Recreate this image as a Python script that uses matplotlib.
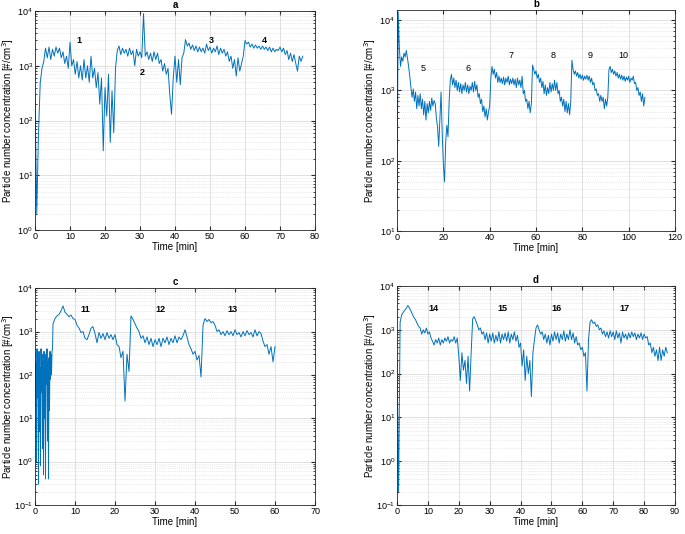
import numpy as np
import matplotlib.pyplot as plt
from matplotlib.ticker import LogLocator, NullFormatter

plt.rcParams['font.family'] = ['Liberation Sans', 'DejaVu Sans']

# sampling interval of the series [min]
STEP = 0.5
STEP_FINE = 0.125

# panel a, concentration [#/cm3] every 0.5 min from t = 0
conc_a = [300, 2, 60, 500, 900, 1200, 2100, 1400, 2200, 1300,
          2000, 1500, 2200, 1700, 2100, 1400, 1800, 1100, 1500, 900,
          2700, 1000, 1300, 700, 1200, 600, 1000, 550, 1300, 600,
          1000, 500, 1500, 600, 900, 400, 750, 200, 600, 28,
          400, 120, 700, 40, 350, 60, 900, 1900, 2300, 1600,
          2100, 1700, 2000, 1500, 2100, 1600, 1900, 1000, 2000, 1500,
          1800, 1400, 9000, 1500, 1800, 1300, 1700, 1200, 1800, 1300,
          1700, 1100, 1300, 800, 1100, 700, 900, 300, 130, 600,
          1500, 500, 1300, 450, 1400, 1700, 3000, 2300, 2600, 2000,
          2400, 1900, 2300, 1800, 2200, 1800, 2100, 1700, 2500, 1900,
          2200, 1700, 2100, 1800, 2300, 1600, 2100, 1700, 2000, 1500,
          1800, 1200, 1500, 900, 1300, 650, 1400, 800, 1100, 1500,
          2900, 2500, 2700, 2200, 2500, 2100, 2400, 2100, 2300, 2000,
          2300, 2000, 2200, 1900, 2200, 1800, 2100, 1800, 2000, 1900,
          2200, 1800, 2100, 1600, 1900, 1300, 1700, 1200, 1600, 1100,
          800, 1500, 1200, 1500]

conc_b = [30, 13000, 4000, 2200, 3000, 2600, 3400, 3000, 3700, 2900,
          2200, 1600, 1100, 800, 1050, 700, 950, 550, 850, 600,
          900, 550, 750, 450, 700, 380, 650, 480, 700, 520,
          780, 600, 720, 650, 400, 300, 160, 380, 950, 250,
          90, 50, 180, 320, 220, 700, 1400, 1700, 1200, 1500,
          1100, 1400, 1000, 1300, 950, 1250, 900, 1200, 1000, 1300,
          950, 1200, 900, 1150, 1000, 1300, 950, 1350, 1000, 1200,
          800, 900, 650, 750, 500, 600, 420, 550, 380, 500,
          600, 1500, 2200, 1700, 2000, 1500, 1800, 1300, 1600, 1300,
          1500, 1250, 1550, 1200, 1500, 1300, 1600, 1200, 1450, 1250,
          1500, 1200, 1450, 1100, 1500, 1200, 1400, 1100, 1600, 900,
          1000, 700, 750, 550, 700, 480, 650, 2300, 2000, 1700,
          1900, 1500, 1700, 1300, 1500, 1100, 1350, 900, 1200, 850,
          1100, 900, 1300, 950, 1250, 1000, 1400, 1000, 1300, 900,
          1000, 700, 800, 600, 750, 500, 700, 480, 650, 450,
          700, 2700, 2000, 1700, 1900, 1600, 1800, 1500, 1700, 1450,
          1650, 1400, 1600, 1450, 1650, 1400, 1600, 1300, 1500, 1200,
          1300, 1000, 1050, 850, 900, 700, 850, 700, 800, 550,
          750, 600, 800, 2000, 2200, 1800, 2000, 1700, 1900, 1600,
          1800, 1500, 1700, 1450, 1650, 1400, 1600, 1350, 1550, 1400,
          1600, 1300, 1500, 1400, 1600, 1250, 1300, 1000, 1100, 850,
          950, 700, 900, 600, 800]

# panel c, first 4.5 min sampled every 0.125 min, then every 0.5 min
conc_c_start = [300, 20, 200, 1, 400, 30, 250, 0.3, 350, 5,
                150, 0.8, 400, 40, 300, 2, 200, 0.5, 350, 10,
                250, 0.4, 300, 60, 400, 3, 200, 0.4, 250, 15,
                350, 80, 300, 100, 350, 400]
conc_c = [1500,
          2000, 2300, 2500, 3000, 3900, 2800, 2500, 2200, 2400, 2000,
          1900, 1400, 1200, 950, 1000, 700, 650, 850, 1200, 1300,
          900, 550, 950, 700, 900, 650, 950, 700, 850, 650,
          850, 500, 450, 250, 350, 25, 300, 120, 2300, 1900,
          1500, 1200, 1000, 700, 800, 550, 750, 500, 700, 450,
          650, 500, 700, 450, 700, 550, 750, 500, 700, 550,
          800, 550, 750, 650, 800, 1100, 750, 500, 400, 300,
          350, 220, 280, 90, 1400, 2000, 1700, 1900, 1600, 1700,
          1400, 1000, 1100, 850, 1000, 800, 1050, 850, 1000, 800,
          1100, 850, 950, 750, 1000, 800, 1050, 850, 950, 750,
          1100, 800, 1000, 900, 600, 450, 500, 300, 450, 200,
          450]

conc_d = [200, 0.2, 1500, 2200, 2500, 2800, 3100, 3600, 3200, 2700,
          2300, 1900, 1700, 1400, 1200, 1100, 800, 1000, 850, 1100,
          800, 900, 650, 550, 450, 600, 500, 650, 450, 600,
          500, 650, 550, 700, 500, 600, 550, 700, 500, 650,
          250, 70, 300, 120, 200, 60, 250, 40, 300, 1800,
          2000, 1600, 1300, 1000, 1100, 800, 900, 600, 850, 500,
          800, 550, 850, 500, 750, 550, 900, 500, 800, 600,
          850, 550, 900, 500, 800, 600, 900, 550, 750, 400,
          500, 150, 350, 70, 250, 100, 200, 30, 300, 600,
          1100, 1300, 1000, 800, 900, 600, 800, 500, 750, 450,
          800, 550, 900, 600, 850, 500, 800, 600, 950, 550,
          800, 600, 1000, 600, 850, 500, 700, 450, 500, 350,
          400, 250, 300, 40, 600, 1500, 1700, 1400, 1500, 1200,
          1300, 1000, 1100, 800, 950, 700, 900, 650, 950, 700,
          900, 600, 950, 650, 850, 500, 900, 650, 800, 600,
          850, 650, 900, 700, 850, 600, 800, 650, 850, 600,
          800, 650, 700, 450, 500, 300, 400, 250, 350, 200,
          400, 200, 350, 250, 400, 300]

# phase labels: (time, concentration, text)
labels_a = [(12.6, 2950, '1'), (30.6, 770, '2'), (50.3, 2950, '3'), (65.4, 2950, '4')]
labels_b = [(11.2, 2070, '5'), (30.6, 2070, '6'), (49.2, 3150, '7'),
            (67.3, 3150, '8'), (83.3, 3150, '9'), (97.5, 3150, '10')]
labels_c = [(12.5, 3280, '11'), (31.3, 3280, '12'), (49.3, 3280, '13')]
labels_d = [(11.7, 3150, '14'), (34.0, 3150, '15'), (51.5, 3150, '16'), (73.8, 3150, '17')]

t_a = np.arange(len(conc_a)) * STEP
t_b = np.arange(len(conc_b)) * STEP
t_c_start = np.arange(len(conc_c_start)) * STEP_FINE
t_c = np.concatenate([t_c_start, t_c_start[-1] + STEP_FINE + np.arange(len(conc_c)) * STEP])
y_c = conc_c_start + conc_c
t_d = np.arange(len(conc_d)) * STEP

panels = [
    ('a', t_a, conc_a, labels_a, (0, 80), (1, 1e4), [0, 10, 20, 30, 40, 50, 60, 70, 80],
     [0.0511, 0.5693, 0.4088, 0.410], True),
    ('b', t_b, conc_b, labels_b, (0, 120), (10, 1.4e4), [0, 20, 40, 60, 80, 100, 120],
     [0.5796, 0.5674, 0.4058, 0.414], False),
    ('c', t_c, y_c, labels_c, (0, 70), (0.1, 1e4), [0, 10, 20, 30, 40, 50, 60, 70],
     [0.0511, 0.0543, 0.4088, 0.406], True),
    ('d', t_d, conc_d, labels_d, (0, 90), (0.1, 1e4), [0, 10, 20, 30, 40, 50, 60, 70, 80, 90],
     [0.5796, 0.0543, 0.4058, 0.410], True),
]

fig = plt.figure(figsize=(6.85, 5.34), dpi=100)

for name, t, conc, labels, xlim, ylim, xticks, rect, bold in panels:
    ax = fig.add_axes(rect)
    ax.plot(t, conc, color='#0072BD', lw=0.7)
    ax.set_yscale('log')
    ax.set_xlim(*xlim)
    ax.set_ylim(*ylim)
    ax.set_xticks(xticks)
    ax.yaxis.set_major_locator(LogLocator(base=10, numticks=20))
    ax.yaxis.set_minor_locator(LogLocator(base=10, subs=np.arange(2, 10), numticks=20))
    ax.yaxis.set_minor_formatter(NullFormatter())
    ax.grid(True, which='major', color='#dcdcdc', lw=0.6)
    ax.grid(True, which='minor', axis='y', color='#d8d8d8', lw=0.5, ls=':')
    ax.set_axisbelow(True)
    ax.tick_params(which='both', direction='in', top=True, right=True,
                   labelsize=6.5, color='#262626', pad=1.5)
    ax.tick_params(which='major', length=3)
    ax.tick_params(which='minor', length=1.5)
    for s in ax.spines.values():
        s.set_color('#262626')
        s.set_linewidth(0.6)
    ax.set_title(name, fontsize=7, fontweight='bold', pad=2)
    ax.set_xlabel('Time [min]', fontsize=7, labelpad=1)
    ax.set_ylabel('Particle number concentration [#/cm$^3$]', fontsize=7)
    # label position in pixels left of the axes, same for both columns
    ax.yaxis.set_label_coords(-19 / (rect[2] * 685), 0.5)
    for lx, ly, txt in labels:
        ax.text(lx, ly, txt, fontsize=6.5, ha='center', va='center',
                fontweight='bold' if bold else 'normal')

fig.savefig('out.png', dpi=100)
